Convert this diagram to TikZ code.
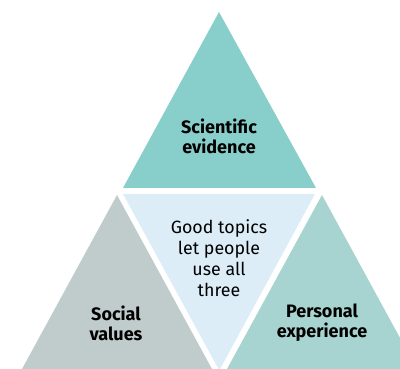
\documentclass[tikz,border=0pt]{standalone}
\usepackage{fontspec}
\setmainfont{Fira Sans}
\definecolor{topc}{HTML}{88CFCB}
\definecolor{midc}{HTML}{DCEDF7}
\definecolor{leftc}{HTML}{BFCCCB}
\definecolor{rightc}{HTML}{A7D4D1}
\tikzset{
  lbl/.style={align=center, font=\fontsize{18}{20}\selectfont\bfseries, inner sep=0pt},
  mid/.style={align=center, font=\fontsize{17.8}{21.2}\selectfont, inner sep=0pt}
}
\begin{document}
\begin{tikzpicture}[x=1pt,y=-1pt]
\useasboundingbox (0,0) rectangle (400,369);
\clip (0,0) rectangle (400,369);
\fill[topc] (219,12) -- (316,188) -- (123,188) -- cycle;
\fill[midc] (123,194) -- (315,194) -- (219.3,370.5) -- cycle;
\fill[leftc] (117,195) -- (218,380) -- (16,380) -- cycle;
\fill[rightc] (322,195) -- (423,380) -- (221,380) -- cycle;
\node[lbl] (sci) at (219,136) {Scientific\\evidence};
\node[mid] (good) at (219,258) {Good topics\\let people\\use all\\three};
\node[lbl] (soc) at (116,323) {Social\\values};
\node[lbl] (per) at (322,323) {Personal\\experience};
\end{tikzpicture}
\end{document}
